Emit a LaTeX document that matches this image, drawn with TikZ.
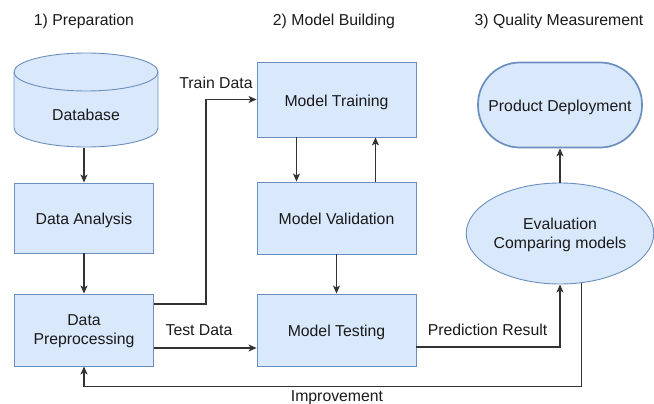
\documentclass[tikz,border=0pt]{standalone}
\usepackage{fontspec}
\setmainfont{Liberation Sans}
\usetikzlibrary{arrows.meta,calc,shapes.geometric}

\definecolor{boxfill}{HTML}{DAE8FC}
\definecolor{boxline}{HTML}{6C8EBF}
\definecolor{ink}{HTML}{1A1A1A}
\definecolor{wire}{HTML}{333333}

\begin{document}
\begin{tikzpicture}[x=1pt,y=-1pt,
  every node/.style={font=\fontsize{15.8}{19}\selectfont, text=ink, inner sep=0pt,
                     text height=13.3pt, text depth=0pt},
  box/.style={draw=boxline, fill=boxfill, line width=0.9pt, align=center},
  twoline/.style={text height=},
  conn/.style={draw=wire, line width=1.1pt, -{Stealth[length=8pt,width=7pt,inset=2pt]}},
  lbl/.style={fill=none}
]
\useasboundingbox (0,0) rectangle (654,404);

% column titles
\node (t1) at (84,19)  {1) Preparation};
\node (t2) at (334,19) {2) Model Building};
\node (t3) at (559,19) {3) Quality Measurement};

% database cylinder
\fill[boxfill] (14,72) -- (14,128) arc[start angle=180,end angle=360,x radius=72pt,y radius=19pt]
  -- (158,72) arc[start angle=0,end angle=180,x radius=72pt,y radius=19pt] -- cycle;
\draw[boxline, line width=0.9pt] (14,72) -- (14,128) arc[start angle=180,end angle=360,x radius=72pt,y radius=19pt] -- (158,72);
\draw[boxline, line width=0.9pt] (86,72) ellipse[x radius=72pt, y radius=19pt];
\node[minimum width=144pt, minimum height=95pt] (db) at (86,100.5) {};
\node (dbtext) at (86,114) {Database};

% preparation column
\node[box, minimum width=139pt, minimum height=70pt] (da) at (84,218) {Data Analysis};
\node[box, twoline, minimum width=139pt, minimum height=72pt] (pp) at (84,330) {Data\\Preprocessing};

% model building column
\node[box, minimum width=159pt, minimum height=75pt] (mtr) at (336.5,99.5) {Model Training};
\node[box, minimum width=159pt, minimum height=72pt] (mv)  at (336.5,218) {Model Validation};
\node[box, minimum width=159pt, minimum height=72pt] (mte) at (336.5,330) {Model Testing};

% quality measurement column
\node[box, twoline, ellipse, minimum width=183pt, minimum height=101pt] (ev) at (560,233.5) {Evaluation\\Comparing models};
\node[box, line width=1.7pt, rounded corners=42pt, minimum width=164pt, minimum height=85pt] (pd) at (560,105) {Product Deployment};

% connectors
\draw[conn] (db.south -| da.north) -- (da.north);
\draw[conn] (da) -- (pp);
\draw[conn] ($(pp.east)+(0,-26)$) -- ++(52,0) |- (mtr.west);
\draw[conn] ($(pp.east)+(0,18)$) -- ($(mte.west)+(0,18)$);
\draw[conn] ($(mtr.south)+(-40,0)$) -- ($(mv.north)+(-40,0)$);
\draw[conn] ($(mv.north)+(39,0)$) -- ($(mtr.south)+(39,0)$);
\draw[conn] (mv) -- (mte);
\draw[conn] ($(mte.east)+(0,17)$) -| (ev.south);
\draw[conn] (ev.north) -- (pd.south);
\draw[conn] (ev.293) |- ($(pp.south)+(0,20)$) -- (pp.south);

% connector labels
\node[lbl] (ltrain) at (216,82)   {Train Data};
\node[lbl] (ltest)  at (199,329)  {Test Data};
\node[lbl] (lpred)  at (487.5,329) {Prediction Result};
\node[lbl] (limp)   at (337,395)  {Improvement};
\end{tikzpicture}
\end{document}
